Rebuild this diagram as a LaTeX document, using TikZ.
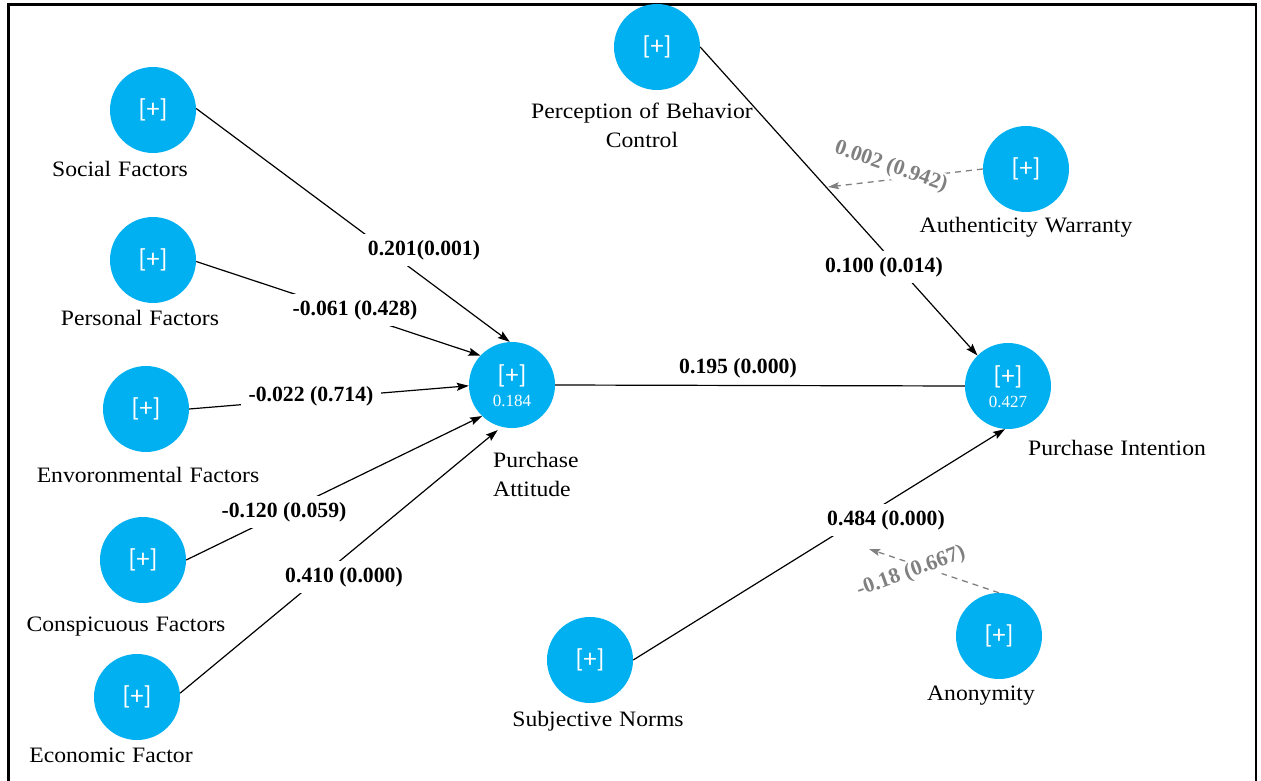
\documentclass[tikz,border=0pt]{standalone}
\usepackage{fontspec}
\setmainfont{Liberation Serif}
\newfontfamily\plusfam{Carlito}
\newfontfamily\lblfam[FakeStretch=1.075]{Liberation Serif}
\newcommand\lblsetup{\lblfam\fontsize{22}{29}\selectfont\spaceskip=7pt plus 1pt\relax}
\usetikzlibrary{arrows.meta}
\definecolor{lvblue}{RGB}{0,176,240}
\definecolor{gtext}{RGB}{128,128,128}
\tikzset{
  lv/.style={circle, fill=lvblue, minimum size=86pt, inner sep=0pt, text=white, font=\plusfam\fontsize{26}{28}\selectfont},
  plustxt/.style={inner sep=0pt, text=white, font=\plusfam\fontsize{26}{28}\selectfont},
  valtxt/.style={inner sep=0pt, text=white, font=\fontsize{17}{18}\selectfont},
  lbl/.style={inner sep=0pt, font=\lblsetup, align=center},
  coef/.style={fill=white, inner xsep=8pt, inner ysep=6pt, font=\bfseries\fontsize{21.7}{24}\selectfont},
  coefplain/.style={inner sep=0pt, font=\bfseries\fontsize{21.7}{24}\selectfont},
  gcoef/.style={coef, text=gtext, inner xsep=3pt, inner ysep=2pt},
  arr/.style={-{Stealth[length=12pt,width=8pt,inset=2pt]}, line width=1.2pt},
  plainline/.style={line width=1.2pt},
  darr/.style={-{Stealth[length=11pt,width=7pt,inset=2pt]}, line width=1.3pt, draw=gtext, dash pattern=on 6pt off 5pt},
  frame/.style={line width=2.5pt}
}
\begin{document}
\begin{tikzpicture}[x=1pt,y=-1pt]
\useasboundingbox (0,0) rectangle (1261,781);
\draw[frame] (8.5,781) -- (8.5,4.5) -- (1256,4.5) -- (1256,781);

% latent variables
\node[lv] (sf) at (153,110) {[+]};
\node[lv] (pf) at (153,260) {[+]};
\node[lv] (ef) at (146,409) {[+]};
\node[lv] (cf) at (143,560) {[+]};
\node[lv] (ec) at (137,697) {[+]};
\node[lv] (pa) at (512,385) {};
\node[plustxt] (pa-p) at (512,376) {[+]};
\node[valtxt] (pa-v) at (512,401) {0.184};
\node[lv] (pbc) at (657,47) {[+]};
\node[lv] (aw) at (1026,169) {[+]};
\node[lv] (pi) at (1008,386) {};
\node[plustxt] (pi-p) at (1008,377) {[+]};
\node[valtxt] (pi-v) at (1008,402) {0.427};
\node[lv] (sn) at (590,660) {[+]};
\node[lv] (an) at (999,636) {[+]};

% labels
\node[lbl] (sf-l) at (120,169) {Social Factors};
\node[lbl] (pf-l) at (140,318) {Personal Factors};
\node[lbl] (ef-l) at (148,475) {Envoronmental Factors};
\node[lbl] (cf-l) at (126,627) {Conspicuous Factors};
\node[lbl] (ec-l) at (111,755) {Economic Factor};
\node[lbl, align=left, anchor=west] (pa-l) at (493,474) {Purchase\\Attitude};
\node[lbl] (pbc-l) at (642,125) {Perception of Behavior\\Control};
\node[lbl] (aw-l) at (1026,227) {Authenticity Warranty};
\node[lbl] (pi-l) at (1117,448) {Purchase Intention};
\node[lbl] (sn-l) at (598,721) {Subjective Norms};
\node[lbl] (an-l) at (981,696) {Anonymity};

% connectors
\draw[arr] (sf.2) -- (pa.93);
\draw[arr] (pf.358) -- (pa.137);
\draw[arr] (ef.east) -- (pa.181);
\draw[arr] (cf.east) -- (pa.226);
\draw[arr, shorten >=5pt] (ec.5) -- (pa.256);
\draw[plainline] (pa.east) -- (pi.west);
\draw[arr] (pbc.east) -- (pi.135);
\draw[arr] (sn.east) -- (pi.266);

\coordinate (m1) at (828,187);
\coordinate (m2) at (869,549);
\draw[darr] (aw.west) -- (m1);
\draw[darr] (an.north) -- (m2);

% coefficients
\node[coef] (c1) at (424,250) {0.201(0.001)};
\node[coef] (c2) at (355,310) {-0.061 (0.428)};
\node[coef] (c3) at (311,396) {-0.022 (0.714)};
\node[coef] (c4) at (284,512) {-0.120 (0.059)};
\node[coef] (c5) at (344,577) {0.410 (0.000)};
\node[coefplain] (c6) at (738,368) {0.195 (0.000)};
\node[coef] (c7) at (884,267) {0.100 (0.014)};
\node[coef] (c8) at (886,520) {0.484 (0.000)};
\node[gcoef, rotate=-19] (g1) at (891,167) {0.002 (0.942)};
\node[gcoef, rotate=20] (g2) at (911,572) {-0.18 (0.667)};
\end{tikzpicture}
\end{document}
